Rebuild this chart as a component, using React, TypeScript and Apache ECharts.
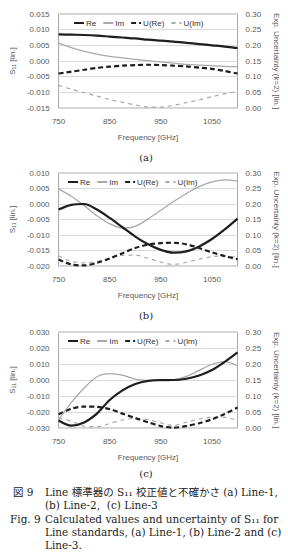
import React, { useEffect, useRef } from 'react';
import * as echarts from 'echarts';

const freq = [750, 775, 800, 825, 850, 875, 900, 925, 950, 975, 1000, 1025, 1050, 1075, 1100];

// (a) Line-1
const reA = [0.0085, 0.0084, 0.0083, 0.0081, 0.0078, 0.0075, 0.0072, 0.0068, 0.0065, 0.0062, 0.0058, 0.0054, 0.005, 0.0046, 0.0041];
const imA = [0.0057, 0.0043, 0.0031, 0.0022, 0.0015, 0.001, 0.0005, 0.0001, -0.0003, -0.0007, -0.0011, -0.0013, -0.0015, -0.0017, -0.0018];
const uReA = [0.11, 0.116, 0.122, 0.128, 0.132, 0.135, 0.137, 0.138, 0.137, 0.135, 0.133, 0.129, 0.125, 0.118, 0.11];
const uImA = [0.072, 0.06, 0.049, 0.038, 0.027, 0.018, 0.01, 0.003, 0.003, 0.009, 0.017, 0.026, 0.036, 0.045, 0.053];

// (b) Line-2
const reB = [-0.0018, -0.0003, 0.0, -0.0018, -0.0045, -0.0075, -0.0105, -0.013, -0.0148, -0.0157, -0.0153, -0.0137, -0.0113, -0.0082, -0.0047];
const imB = [0.0049, 0.0025, -0.0005, -0.0038, -0.0064, -0.0078, -0.0072, -0.0048, -0.002, 0.0008, 0.0034, 0.0056, 0.0071, 0.0078, 0.0074];
const uReB = [0.021, 0.005, 0.002, 0.01, 0.024, 0.041, 0.058, 0.069, 0.074, 0.075, 0.07, 0.058, 0.044, 0.032, 0.022];
const uImB = [0.033, 0.015, 0.01, 0.015, 0.025, 0.034, 0.035, 0.025, 0.013, 0.005, 0.012, 0.022, 0.03, 0.032, 0.028];

// (c) Line-3
const reC = [-0.0253, -0.0285, -0.0265, -0.021, -0.0125, -0.0065, -0.0025, -0.0005, 0.0, 0.0, 0.0008, 0.0028, 0.0062, 0.0113, 0.0172];
const imC = [-0.0248, -0.014, -0.005, 0.002, 0.004, 0.003, 0.0005, -0.0004, -0.0006, 0.0, 0.0022, 0.006, 0.0098, 0.0115, 0.009];
const uReC = [0.043, 0.06, 0.067, 0.066, 0.059, 0.045, 0.031, 0.018, 0.006, 0.001, 0.006, 0.015, 0.027, 0.044, 0.064];
const uImC = [0.031, 0.021, 0.006, 0.004, 0.014, 0.025, 0.03, 0.026, 0.016, 0.008, 0.018, 0.028, 0.034, 0.033, 0.024];

const seriesNames = ['Re', 'Im', 'U(Re)', 'U(Im)'];
const leftRanges = [
  { min: -0.015, max: 0.015, interval: 0.005 },
  { min: -0.02, max: 0.01, interval: 0.005 },
  { min: -0.03, max: 0.03, interval: 0.01 },
];
const rightRange = { min: 0, max: 0.3, interval: 0.05 };
const xRange = { min: 750, max: 1100, interval: 100 };
const panelLabels = ['(a)', '(b)', '(c)'];
const xTitle = 'Frequency [GHz]';
const yLeftTitle = 'S\u2081\u2081 [lin.]';
const yRightTitle = 'Exp. Uncertainty (k=2) [lin.]';
const captionHeads = ['図 9', '', 'Fig. 9', '', ''];
const captionLines = [
  'Line 標準器の S\u2081\u2081 校正値と不確かさ (a) Line-1,',
  '(b) Line-2,  (c) Line-3',
  'Calculated values and uncertainty of S\u2081\u2081 for',
  'Line standards, (a) Line-1, (b) Line-2 and (c)',
  'Line-3.',
];

const panels = [
  [reA, imA, uReA, uImA],
  [reB, imB, uReB, uImB],
  [reC, imC, uReC, uImC],
];

const grids = [
  { left: 48, top: 14, width: 201, height: 94 },
  { left: 48, top: 173, width: 201, height: 93 },
  { left: 48, top: 332, width: 207, height: 96 },
];
const legendTops = [19, 178, 337];
const legendLefts = [73, 67, 67];
const panelLabelY = [157, 315, 473];
const captionY = [492, 505, 519, 532, 545];

const TXT = '#595959';
const FONT = '"Liberation Sans", Arial, sans-serif';
const SERIF = '"DejaVu Serif", "Noto Sans CJK JP", serif';

const lineStyles = [
  { color: '#1e1e1e', width: 2.2, type: 'solid' },
  { color: '#a9a9a9', width: 1.3, type: 'solid' },
  { color: '#1e1e1e', width: 2.2, type: [5, 3] },
  { color: '#a9a9a9', width: 1.2, type: [4, 4] },
];

export default function App() {
  const ref = useRef<HTMLDivElement>(null);
  useEffect(() => {
    if (!ref.current) return;
    const chart = echarts.init(ref.current, undefined, { renderer: 'svg' });
    const xAxis: any[] = [];
    const yAxis: any[] = [];
    const series: any[] = [];
    const legend: any[] = [];
    const graphic: any[] = [];
    grids.forEach((g, i) => {
      xAxis.push({
        gridIndex: i,
        type: 'value',
        min: xRange.min,
        max: xRange.max,
        interval: xRange.interval,
        axisLine: { show: false },
        axisTick: { show: false },
        splitLine: { show: false },
        axisLabel: { showMaxLabel: false, fontSize: 8, color: TXT, margin: 9, fontFamily: FONT, formatter: (v: number) => String(v) },
        name: xTitle,
        nameLocation: 'middle',
        nameGap: 25,
        nameTextStyle: { fontSize: 8, color: TXT, fontFamily: FONT },
      });
      const lr = leftRanges[i];
      yAxis.push({
        gridIndex: i,
        type: 'value',
        position: 'left',
        min: lr.min,
        max: lr.max,
        interval: lr.interval,
        axisLine: { show: false },
        axisTick: { show: false },
        splitLine: { show: true, lineStyle: { color: '#d9d9d9', width: 1 } },
        axisLabel: { fontSize: 8, color: TXT, margin: 9, fontFamily: FONT, formatter: (v: number) => v.toFixed(3) },
        name: yLeftTitle,
        nameLocation: 'middle',
        nameRotate: 90,
        nameGap: 33,
        nameTextStyle: { fontSize: 8, color: TXT, fontFamily: FONT },
      });
      yAxis.push({
        gridIndex: i,
        type: 'value',
        position: 'right',
        min: rightRange.min,
        max: rightRange.max,
        interval: rightRange.interval,
        axisLine: { show: false },
        axisTick: { show: false },
        splitLine: { show: false },
        axisLabel: { fontSize: 8, color: TXT, margin: 8, fontFamily: FONT, formatter: (v: number) => v.toFixed(2) },
        name: yRightTitle,
        nameLocation: 'middle',
        nameRotate: -90,
        nameGap: 26,
        nameTextStyle: { fontSize: 8, color: TXT, fontFamily: FONT },
      });
      panels[i].forEach((arr, k) => {
        series.push({
          name: seriesNames[k],
          type: 'line',
          xAxisIndex: i,
          yAxisIndex: k < 2 ? 2 * i : 2 * i + 1,
          data: freq.map((f, j) => [f, arr[j]]),
          showSymbol: false,
          symbol: 'none',
          smooth: 0.3,
          lineStyle: lineStyles[k],
          itemStyle: { color: lineStyles[k].color },
          z: 10 - k,
        });
      });
      legend.push({
        data: seriesNames,
        left: legendLefts[i],
        top: legendTops[i],
        padding: 0,
        itemWidth: 10,
        itemHeight: 8,
        itemGap: 6,
        itemStyle: { opacity: 0 },
        textStyle: { fontSize: 8, color: '#333', fontFamily: FONT, padding: [0, 0, 0, -3] },
      });
      graphic.push({
        type: 'text',
        x: 146,
        y: panelLabelY[i],
        style: {
          text: panelLabels[i],
          font: '10px ' + SERIF,
          fill: '#222',
          textAlign: 'center',
          textVerticalAlign: 'middle',
          align: 'center',
          verticalAlign: 'middle',
        },
      });
    });
    captionLines.forEach((t, i) => {
      if (captionHeads[i]) {
        graphic.push({
          type: 'text',
          x: i === 0 ? 13 : 10,
          y: captionY[i],
          style: { text: captionHeads[i], font: '10.5px ' + SERIF, fill: '#222', textVerticalAlign: 'middle', verticalAlign: 'middle' },
        });
      }
      graphic.push({
        type: 'text',
        x: 45,
        y: captionY[i],
        style: { text: t, font: '10.5px ' + SERIF, fill: '#222', textVerticalAlign: 'middle', verticalAlign: 'middle' },
      });
    });
    chart.setOption({
      animation: false,
      backgroundColor: '#fff',
      textStyle: { fontFamily: FONT },
      grid: grids.map((g) => ({ ...g, show: true, borderColor: '#a6a6a6', borderWidth: 1, backgroundColor: 'transparent' })),
      xAxis,
      yAxis,
      legend,
      series,
      graphic,
    });
    return () => chart.dispose();
  }, []);
  return <div ref={ref} style={{ position: 'fixed', left: 0, top: 0, width: 288, height: 555 }} />;
}
